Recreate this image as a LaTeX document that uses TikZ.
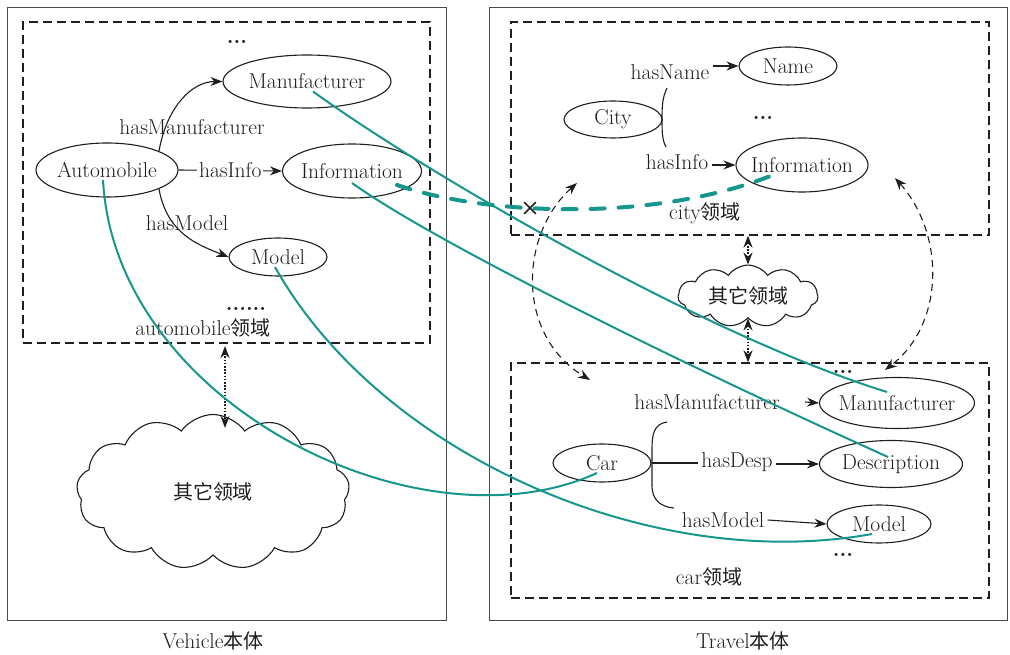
\documentclass[tikz,border=0pt]{standalone}
\usepackage{fontspec}
\newfontfamily\cjk{Noto Sans CJK SC}[Scale=0.93]
\usetikzlibrary{shapes.geometric,shapes.symbols,shapes.misc,arrows.meta}
\definecolor{teal1}{RGB}{22,150,140}
\definecolor{ink}{RGB}{30,30,30}
\begin{document}
\begin{tikzpicture}[x=1pt,y=1pt, font=\fontsize{21.5}{25}\selectfont,
 every node/.style={text=ink},
 ell/.style={ellipse, draw=ink, line width=1.1pt, inner xsep=-12pt, inner ysep=0pt},
 solidbox/.style={draw=ink!80, line width=1pt, inner sep=0pt},
 dbox/.style={draw=ink, line width=1.2pt, dash pattern=on 9pt off 5pt, inner sep=0pt},
 arr/.style={draw=ink, line width=1.1pt, -{Stealth[length=12pt,width=9pt]}},
 thinl/.style={draw=ink, line width=1.1pt},
 tl/.style={draw=teal1, line width=2pt},
 tld/.style={draw=teal1, line width=4pt, line cap=round, dash pattern=on 14pt off 14pt},
 darc/.style={draw=ink, line width=1.1pt, dash pattern=on 7pt off 5pt, {Stealth[length=12pt,width=9pt]}-{Stealth[length=12pt,width=9pt]}},
 dotarr/.style={draw=ink, line width=2pt, dash pattern=on 1.6pt off 1.6pt, {Stealth[length=12pt,width=9pt]}-{Stealth[length=12pt,width=9pt]}},
 cl/.style={cloud, draw=ink, line width=1.1pt, inner sep=0pt},
 dots/.style={font=\fontsize{21.5}{25}\selectfont\bfseries}
]
\useasboundingbox (0,0) rectangle (1010,654);
% frames
\node[solidbox, minimum width=439pt, minimum height=612pt] (lout) at (226.5,340) {};
\node[solidbox, minimum width=518pt, minimum height=612pt] (rout) at (748,340) {};
\node (lcap) at (213,13) {Vehicle{\cjk 本体}};
\node (rcap) at (743,13) {Travel{\cjk 本体}};
\node[dbox, minimum width=407pt, minimum height=321pt] (ldom) at (226.5,471.5) {};
\node[dbox, minimum width=478pt, minimum height=213pt] (rtop) at (750,525.5) {};
\node[dbox, minimum width=478pt, minimum height=235pt] (rbot) at (750,173.5) {};
% left domain
\node[dots] (ld1) at (237,612) {...};
\node[ell, minimum width=168pt, minimum height=53pt] (lman) at (307,572.5) {Manufacturer};
\node[ell, minimum width=142pt, minimum height=54pt] (auto) at (107,484) {Automobile};
\node[ell, minimum width=139pt, minimum height=54pt] (linfo) at (352,483) {Information};
\node[ell, minimum width=98pt, minimum height=38pt] (lmodel) at (278,397) {Model};
\node[dots] (ld2) at (246,345) {......};
\node (ldomlbl) at (203,326) {automobile{\cjk 领域}};
\node (lhm) at (192,527) {hasManufacturer};
\node (lhmo) at (187,431) {hasModel};
\draw[arr] (auto.20) .. controls +(8,45) and +(-30,0) .. (lman.west);
\draw[arr] (auto.-20) .. controls +(8,-45) and +(-30,12) .. (lmodel.west);
\draw[arr] (auto.east) -- node[fill=white, inner sep=2pt] (lhi) {hasInfo} (linfo.west);
% right top domain
\node[ell, minimum width=98pt, minimum height=38pt] (name) at (788,588) {Name};
\node[ell, minimum width=98pt, minimum height=37pt] (city) at (613,534.5) {City};
\node[ell, minimum width=132pt, minimum height=54pt] (rinfo) at (802,489) {Information};
\node (hn) at (670,582) {hasName};
\node (hi) at (677,492) {hasInfo};
\draw[arr] (hn.east |- name.west) -- (name.west);
\draw[arr] (hi.east |- rinfo.west) -- (rinfo.west);
\draw[thinl] (667,566) .. controls (662,556) and (662,545) .. (662,534.5) .. controls (662,524) and (662,514) .. (666,507);
\node[dots] (rd1) at (763,536) {...};
\node (ctl) at (705,441) {city{\cjk 领域}};
% right bottom domain
\node[dots] (rd2) at (843,282) {...};
\node[ell, minimum width=155pt, minimum height=51pt] (rman) at (897,251) {Manufacturer};
\node (hmr) at (707,252) {hasManufacturer};
\draw[arr] ([xshift=22pt]hmr.east) -- (rman.west);
\node[ell, minimum width=98pt, minimum height=38pt] (car) at (602,191) {Car};
\node (hd) at (737,192) {hasDesp};
\node[ell, minimum width=143pt, minimum height=47pt] (desc) at (891,190) {Description};
\draw[thinl] (car.east) -- (hd.west |- car.east);
\draw[arr] (hd.east |- desc.west) -- (desc.west);
\node (hmo) at (723,134) {hasModel};
\node[ell, minimum width=104pt, minimum height=38pt] (rmodel) at (879,130) {Model};
\draw[arr] (hmo.east) -- (rmodel.west);
\draw[thinl] (667,232) .. controls (654,230) and (652,220) .. (652,205) -- (652,168) .. controls (652,155) and (660,147) .. (674,146);
\node[dots] (rd3) at (843,99) {...};
\node (cdl) at (709,77) {car{\cjk 领域}};
% clouds
\node[cl, cloud puffs=13, cloud puff arc=110, aspect=1.75, minimum width=273pt, minimum height=155pt] (lcloud) at (213,162) {{\cjk 其它领域}};
\node[cl, cloud puffs=11, cloud puff arc=110, aspect=2.4, minimum width=140pt, minimum height=58pt] (rcloud) at (748,358) {{\cjk 其它领域}};
% dotted links
\coordinate (la) at (225,308);
\coordinate (lb) at (225,226);
\draw[dotarr] (la) -- (lb);
\draw[dotarr] (rcloud.north |- rtop.south) -- (rcloud.north);
\draw[dotarr] (rcloud.south) -- (rcloud.south |- rbot.north);
% dashed arcs
\coordinate (a1) at (577,471);
\coordinate (a2) at (590,274);
\draw[darc] (a1) .. controls (520,420) and (515,320) .. (a2);
\coordinate (b1) at (895,476);
\coordinate (b2) at (885,284);
\draw[darc] (b1) .. controls (945,420) and (945,330) .. (b2);
% teal mappings
\draw[tl] ([shift={(6,-10)}]lman.center) .. controls (420,485) and (700,320) .. ([shift={(-10,11)}]rman.center);
\draw[tl] ([shift={(0,-12)}]linfo.center) .. controls (430,415) and (660,300) .. ([shift={(-3,7)}]desc.center);
\draw[tl] ([shift={(-4,-10)}]auto.center) .. controls (115,250) and (420,100) .. ([shift={(-5,-10)}]car.center);
\draw[tl] ([shift={(-3,-10)}]lmodel.center) .. controls (380,200) and (650,80) .. ([shift={(-7,-10)}]rmodel.center);
\draw[tld] ([shift={(45,-14)}]linfo.center) .. controls (480,440) and (650,430) .. ([shift={(-29,-10)}]rinfo.center);
\node[cross out, draw=ink, line width=1.6pt, minimum size=10pt, inner sep=0pt] (xm) at (530,446) {};
\end{tikzpicture}
\end{document}
